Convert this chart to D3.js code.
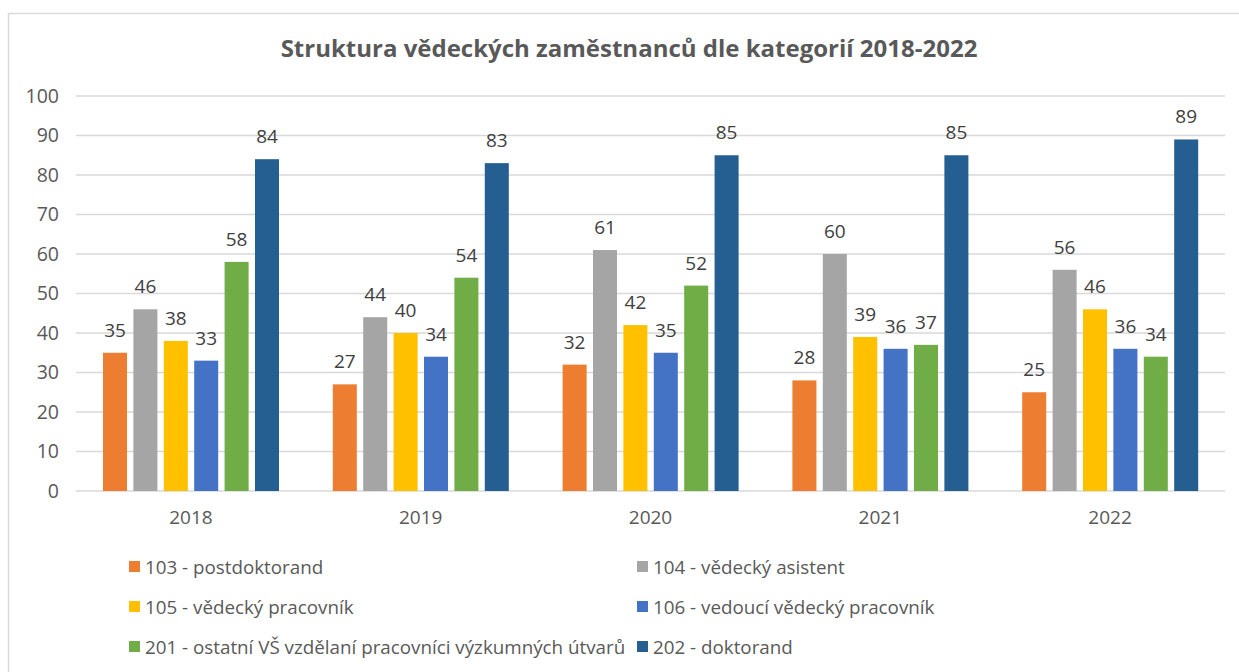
<!DOCTYPE html>
<html>
<head>
<meta charset="utf-8">
<script src="https://cdn.jsdelivr.net/npm/d3@7"></script>
<style>
  body { margin: 0; background: #fff; }
  svg { font-family: "Open Sans", sans-serif; }
</style>
</head>
<body>
<svg id="drawing_region"></svg>
<script>
const years = ["2018", "2019", "2020", "2021", "2022"];
const seriesNames = [
    "103 - postdoktorand",
    "104 - vědecký asistent",
    "105 - vědecký pracovník",
    "106 - vedoucí vědecký pracovník",
    "201 - ostatní VŠ vzdělaní pracovníci výzkumných útvarů",
    "202 - doktorand"
];
const seriesColors = ["#ed7d31", "#a5a5a5", "#ffc000", "#4472c4", "#70ad47", "#255e91"];
const v103 = [35, 27, 32, 28, 25];
const v104 = [46, 44, 61, 60, 56];
const v105 = [38, 40, 42, 39, 46];
const v106 = [33, 34, 35, 36, 36];
const v201 = [58, 54, 52, 37, 34];
const v202 = [84, 83, 85, 85, 89];
const yTicks = [0, 10, 20, 30, 40, 50, 60, 70, 80, 90, 100];

const seriesValues = [v103, v104, v105, v106, v201, v202];

const config = {
    width: 1239,
    height: 672,
    margin: {top: 96, right: 14, bottom: 181, left: 76}
};

const svg = d3.select('#drawing_region')
    .attr('width', config.width)
    .attr('height', config.height);

// outer frame
svg.append('rect')
    .attr('x', 8.5).attr('y', 13.5)
    .attr('width', 1240).attr('height', 680)
    .attr('fill', 'none')
    .attr('stroke', '#d9d9d9')
    .attr('stroke-width', 1.5);

const inner_width = config.width - config.margin.left - config.margin.right;
const inner_height = config.height - config.margin.top - config.margin.bottom;

const chart = svg.append('g')
    .attr('transform', `translate(${config.margin.left}, ${config.margin.top})`);

const xscale = d3.scaleBand()
    .domain(years)
    .range([0, inner_width]);

const x1scale = d3.scaleBand()
    .domain(d3.range(seriesNames.length))
    .range([27, 203])
    .paddingInner(0.21);

const yscale = d3.scaleLinear()
    .domain([0, 100])
    .range([inner_height, 0]);

// gridlines
chart.append('g')
    .selectAll('line')
    .data(yTicks)
    .join('line')
    .attr('x1', 0).attr('x2', inner_width)
    .attr('y1', d => yscale(d)).attr('y2', d => yscale(d))
    .attr('stroke', '#d9d9d9')
    .attr('stroke-width', 1.3);

// y axis labels
const yaxis = d3.axisLeft(yscale).tickValues(yTicks).tickSize(0).tickPadding(17);
const yaxis_group = chart.append('g').call(yaxis);
yaxis_group.select('.domain').remove();
yaxis_group.selectAll('text')
    .attr('fill', '#595959')
    .attr('font-size', '19.5px')
    .attr('font-family', '"Open Sans", sans-serif');

// x axis labels
const xaxis = d3.axisBottom(xscale).tickSize(0).tickPadding(20);
const xaxis_group = chart.append('g')
    .attr('transform', `translate(0, ${inner_height})`)
    .call(xaxis);
xaxis_group.select('.domain').remove();
xaxis_group.selectAll('text')
    .attr('fill', '#595959')
    .attr('font-size', '19px')
    .attr('font-family', '"Open Sans", sans-serif');

// bars
const groups = chart.selectAll('.grp')
    .data(years)
    .join('g')
    .attr('class', 'grp')
    .attr('transform', d => `translate(${xscale(d)}, 0)`);

groups.selectAll('rect')
    .data((y, i) => seriesValues.map((vals, s) => ({s: s, v: vals[i]})))
    .join('rect')
    .attr('x', d => x1scale(d.s))
    .attr('width', x1scale.bandwidth())
    .attr('y', d => yscale(d.v))
    .attr('height', d => inner_height - yscale(d.v))
    .attr('fill', d => seriesColors[d.s]);

groups.selectAll('text')
    .data((y, i) => seriesValues.map((vals, s) => ({s: s, v: vals[i]})))
    .join('text')
    .attr('x', d => x1scale(d.s) + x1scale.bandwidth() / 2)
    .attr('y', d => yscale(d.v) - 16)
    .attr('text-anchor', 'middle')
    .attr('fill', '#404040')
    .attr('font-size', '19px')
    .text(d => d.v);

// title
svg.append('text')
    .attr('x', 629)
    .attr('y', 57)
    .attr('text-anchor', 'middle')
    .attr('fill', '#595959')
    .attr('font-size', '24px')
    .attr('font-weight', 'bold')
    .text('Struktura vědeckých zaměstnanců dle kategorií 2018-2022');

// legend
const legend = svg.append('g');
const legendItems = legend.selectAll('g')
    .data(seriesNames)
    .join('g')
    .attr('transform', (d, i) => `translate(${i % 2 === 0 ? 129 : 637}, ${567 + Math.floor(i / 2) * 40})`);

legendItems.append('rect')
    .attr('x', 0).attr('y', -6)
    .attr('width', 11).attr('height', 11)
    .attr('fill', (d, i) => seriesColors[i]);

legendItems.append('text')
    .attr('x', 16)
    .attr('y', 7)
    .attr('fill', '#595959')
    .attr('font-size', '18.8px')
    .text(d => d);
</script>
</body>
</html>
